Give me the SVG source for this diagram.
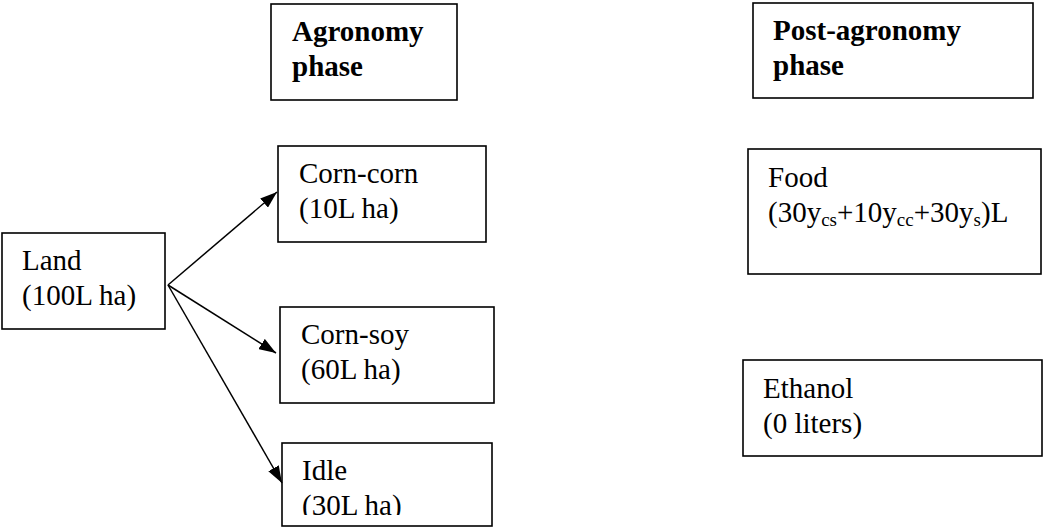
<svg xmlns="http://www.w3.org/2000/svg" width="1043" height="527" viewBox="0 0 1043 527">
<style>
.box{fill:#fff;stroke:#000;stroke-width:1.6}
.t{font-family:"Liberation Serif","Times New Roman",serif;font-size:29px;fill:#000}
.b{font-weight:bold}
.sub{font-size:19px}
.c{stroke:#000;stroke-width:1.5;fill:none}
</style>
<defs>
<marker id="ah" viewBox="0 0 17 12" refX="17" refY="6" markerWidth="17" markerHeight="12" markerUnits="userSpaceOnUse" orient="auto">
<path d="M0,0 L17,6 L0,12 z" fill="#000"/>
</marker>
<clipPath id="idleclip"><rect x="282" y="443" width="210" height="72"/></clipPath>
</defs>
<rect width="1043" height="527" fill="#fff"/>
<g id="agronomy">
<rect class="box" x="271" y="4" width="186" height="96"/>
<text class="t b" x="292" y="41">Agronomy</text>
<text class="t b" x="292" y="76">phase</text>
</g>
<g id="post-agronomy">
<rect class="box" x="753" y="3" width="280" height="95"/>
<text class="t b" x="773" y="40">Post-agronomy</text>
<text class="t b" x="773" y="75">phase</text>
</g>
<g id="land">
<rect class="box" x="2" y="233" width="163" height="96"/>
<text class="t" x="22" y="270">Land</text>
<text class="t" x="22" y="305">(100L ha)</text>
</g>
<g id="corn-corn">
<rect class="box" x="278" y="146" width="208" height="96"/>
<text class="t" x="299" y="183">Corn-corn</text>
<text class="t" x="299" y="218">(10L ha)</text>
</g>
<g id="corn-soy">
<rect class="box" x="280" y="307" width="214" height="96"/>
<text class="t" x="301" y="344">Corn-soy</text>
<text class="t" x="301" y="379">(60L ha)</text>
</g>
<g id="idle">
<rect class="box" x="282" y="443" width="210" height="83"/>
<g clip-path="url(#idleclip)">
<text class="t" x="302" y="480">Idle</text>
<text class="t" x="302" y="515">(30L ha)</text>
</g>
</g>
<g id="food">
<rect class="box" x="748" y="149" width="293" height="125"/>
<text class="t" x="768" y="187">Food</text>
<text class="t" x="768" y="222">(30y<tspan class="sub" dy="4">cs</tspan><tspan dy="-4">+10y</tspan><tspan class="sub" dy="4">cc</tspan><tspan dy="-4">+30y</tspan><tspan class="sub" dy="4">s</tspan><tspan dy="-4">)L</tspan></text>
</g>
<g id="ethanol">
<rect class="box" x="743" y="360" width="299" height="96"/>
<text class="t" x="763" y="398">Ethanol</text>
<text class="t" x="763" y="433">(0 liters)</text>
</g>
<g id="connectors">
<line class="c" x1="168" y1="285" x2="277" y2="192" marker-end="url(#ah)"/>
<line class="c" x1="168" y1="285" x2="276" y2="353" marker-end="url(#ah)"/>
<line class="c" x1="168" y1="285" x2="282" y2="483" marker-end="url(#ah)"/>
</g>
</svg>
